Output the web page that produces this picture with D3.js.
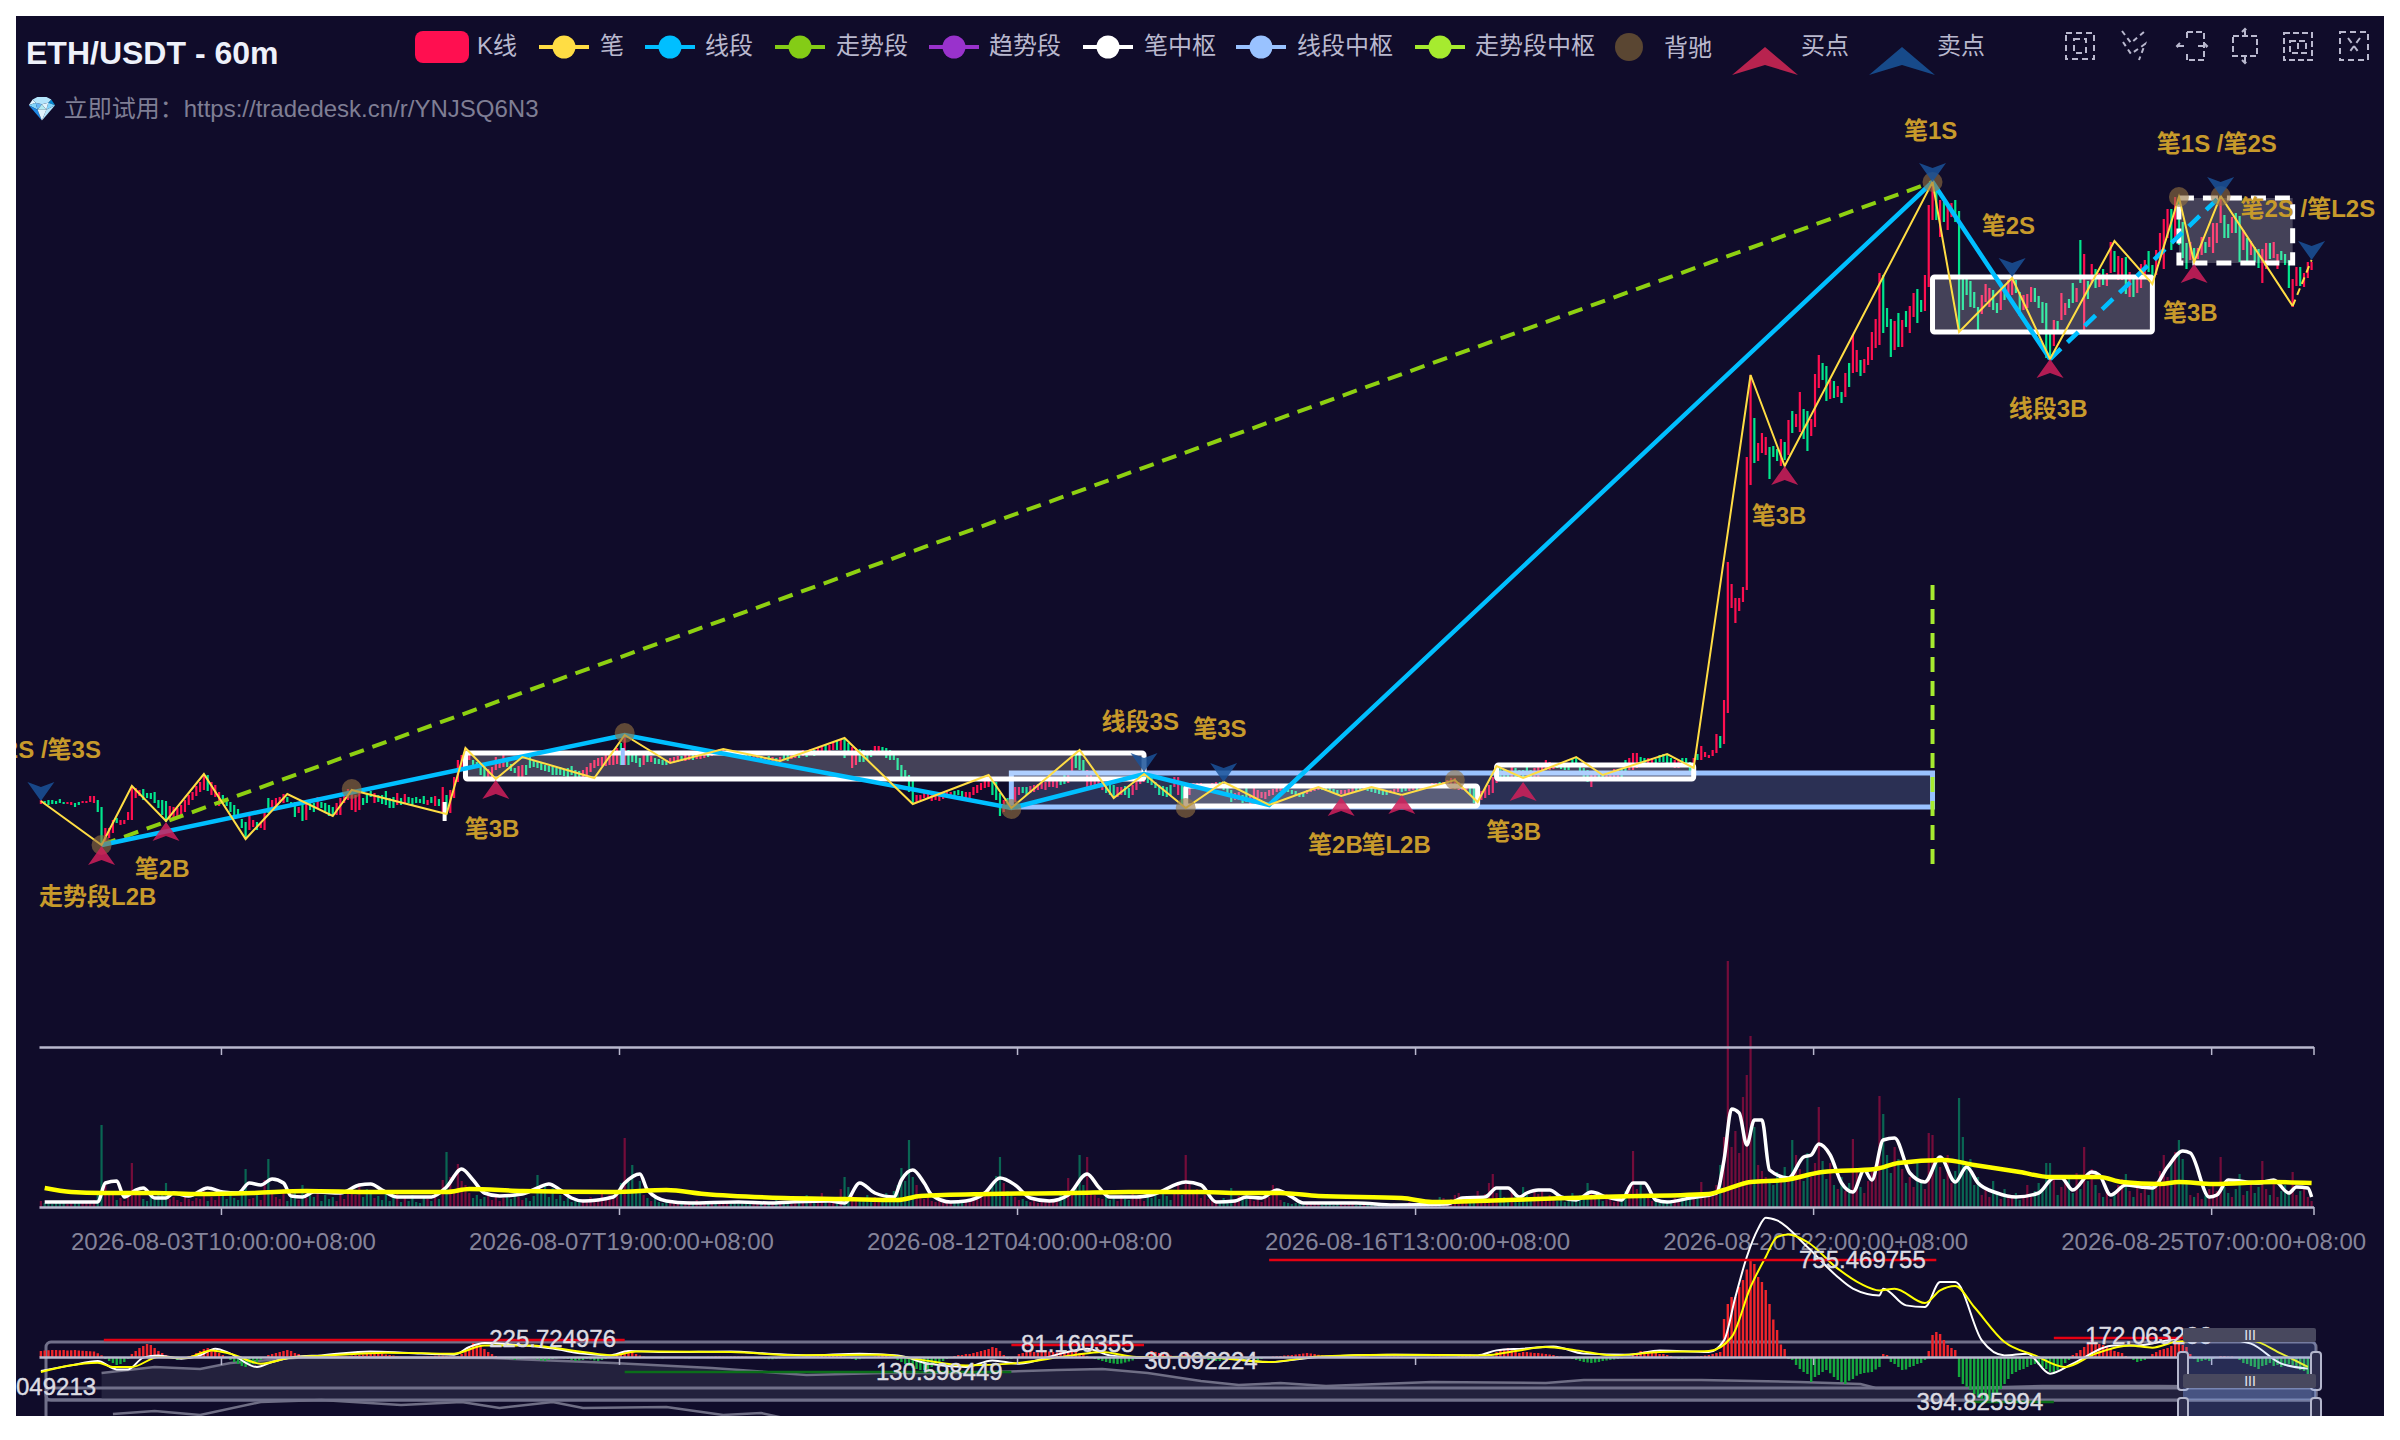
<!DOCTYPE html>
<html>
<head>
<meta charset="utf-8">
<script src="https://cdn.jsdelivr.net/npm/d3@7"></script>
<style>
  html, body { margin: 0; background: #fff; }
  text { font-family: "Liberation Sans", "Noto Sans CJK SC", sans-serif; }
</style>
</head>
<body>
<svg id="chart" width="2400" height="1440"></svg>
<script>
const barCount = 600;

// 60m bars
const candleHighs = [
2200,2199,2200,2200,2199,2201,2198,2198,2198,2197,
2198,2199,2199,2204,2204,2200,2193,2172,2172,2180,
2182,2180,2180,2188,2214,2212,2210,2211,2207,2207,
2208,2200,2200,2199,2194,2193,2192,2195,2200,2205,
2208,2214,2218,2226,2225,2218,2215,2208,2205,2200,
2198,2195,2191,2181,2178,2184,2180,2178,2177,2190,
2202,2200,2202,2203,2206,2203,2198,2198,2193,2196,
2198,2200,2197,2203,2198,2197,2195,2193,2197,2202,
2204,2211,2209,2205,2207,2202,2207,2209,2207,2205,
2205,2209,2202,2203,2207,2202,2206,2203,2202,2203,
2201,2204,2200,2203,2204,2201,2213,2205,2210,2223,
2240,2245,2252,2248,2240,2238,2237,2235,2231,2233,
2243,2241,2246,2242,2236,2232,2234,2235,2235,2243,
2240,2238,2237,2235,2234,2234,2232,2233,2231,2232,
2234,2230,2229,2230,2233,2237,2240,2242,2243,2245,
2248,2250,2252,2257,2265,2250,2249,2245,2242,2245,
2245,2244,2242,2241,2240,2240,2242,2243,2244,2244,
2245,2245,2246,2246,2247,2248,2249,2249,2250,2251,
2251,2250,2249,2248,2248,2247,2246,2245,2245,2244,
2243,2243,2244,2243,2242,2243,2246,2246,2247,2248,
2248,2250,2249,2251,2250,2253,2253,2255,2255,2258,
2259,2260,2262,2257,2253,2252,2251,2250,2247,2250,
2254,2254,2253,2252,2250,2248,2242,2235,2230,2225,
2220,2205,2205,2207,2206,2207,2207,2205,2207,2208,
2208,2209,2210,2209,2208,2208,2213,2215,2217,2220,
2225,2221,2218,2207,2200,2202,2205,2213,2213,2213,
2213,2214,2215,2216,2217,2218,2225,2221,2220,2222,
2225,2227,2243,2245,2250,2240,2230,2228,2222,2222,
2220,2217,2217,2215,2213,2213,2214,2212,2215,2220,
2224,2227,2225,2222,2218,2215,2214,2213,2215,2223,
2223,2217,2210,2213,2217,2217,2217,2216,2216,2217,
2218,2218,2215,2213,2210,2207,2208,2205,2212,2204,
2215,2210,2208,2208,2210,2211,2213,2213,2212,2212,
2210,2209,2207,2207,2210,2212,2213,2213,2213,2213,
2212,2211,2210,2210,2210,2211,2212,2212,2213,2213,
2212,2212,2211,2210,2209,2209,2210,2211,2212,2212,
2213,2213,2214,2214,2215,2215,2216,2217,2217,2218,
2218,2220,2222,2222,2218,2215,2215,2215,2215,2205,
2209,2212,2215,2223,2234,2233,2230,2228,2237,2232,
2230,2230,2234,2230,2232,2234,2235,2240,2238,2237,
2237,2236,2235,2234,2242,2242,2234,2232,2230,2225,
2225,2228,2228,2228,2227,2231,2230,2231,2240,2242,
2247,2247,2243,2242,2242,2242,2241,2245,2246,2245,
2242,2240,2240,2242,2242,2238,2242,2246,2254,2248,
2245,2250,2266,2264,2300,2438,2416,2402,2402,2413,
2543,2625,2582,2557,2567,2563,2553,2554,2551,2561,
2558,2580,2589,2586,2608,2591,2589,2581,2626,2645,
2637,2634,2620,2619,2614,2608,2627,2637,2665,2650,
2640,2641,2653,2668,2681,2727,2725,2692,2681,2679,
2687,2680,2689,2694,2707,2711,2700,2725,2795,2818,
2810,2800,2798,2793,2797,2800,2789,2721,2725,2719,
2708,2693,2705,2716,2712,2710,2697,2710,2715,2720,
2723,2720,2708,2705,2706,2713,2712,2704,2698,2697,
2670,2680,2679,2707,2697,2701,2717,2712,2760,2746,
2719,2736,2731,2727,2731,2727,2758,2749,2744,2742,
2743,2728,2723,2723,2736,2740,2749,2735,2750,2767,
2781,2791,2791,2803,2803,2778,2757,2758,2752,2752,
2763,2758,2763,2777,2777,2803,2785,2776,2783,2787,
2784,2770,2762,2759,2753,2751,2751,2757,2757,2758,
2746,2749,2746,2740,2721,2733,2733,2727,2738,2738];

const candleLows = [
2196,2196,2195,2196,2196,2197,2196,2196,2195,2193,
2195,2197,2197,2198,2197,2188,2155,2158,2162,2167,
2177,2175,2176,2180,2180,2202,2204,2200,2202,2201,
2197,2192,2185,2178,2180,2182,2183,2185,2188,2195,
2200,2204,2208,2210,2209,2205,2203,2194,2197,2194,
2188,2182,2182,2172,2161,2170,2173,2170,2172,2170,
2187,2192,2193,2197,2197,2198,2193,2183,2187,2179,
2180,2190,2188,2192,2192,2187,2184,2185,2185,2185,
2197,2200,2190,2188,2190,2195,2197,2203,2197,2198,
2196,2195,2192,2192,2195,2195,2197,2197,2194,2197,
2197,2196,2195,2197,2194,2194,2187,2186,2187,2202,
2218,2230,2233,2240,2233,2232,2225,2221,2222,2223,
2230,2232,2233,2233,2229,2227,2223,2219,2225,2232,
2233,2232,2230,2229,2228,2225,2225,2225,2224,2223,
2225,2222,2222,2223,2225,2228,2232,2234,2234,2234,
2235,2235,2236,2235,2235,2235,2238,2237,2233,2235,
2238,2238,2236,2236,2235,2235,2237,2238,2238,2239,
2239,2240,2240,2241,2241,2242,2243,2244,2245,2246,
2245,2245,2244,2243,2242,2242,2241,2240,2239,2238,
2238,2237,2238,2237,2237,2238,2240,2239,2241,2242,
2242,2244,2243,2245,2244,2246,2247,2248,2249,2250,
2250,2250,2242,2245,2232,2235,2238,2238,2240,2243,
2247,2248,2245,2242,2240,2240,2230,2222,2220,2208,
2197,2197,2200,2202,2201,2199,2200,2199,2201,2203,
2205,2204,2205,2203,2201,2201,2205,2207,2210,2212,
2213,2205,2200,2184,2188,2192,2191,2198,2205,2207,
2205,2207,2208,2210,2211,2210,2213,2213,2212,2215,
2216,2217,2227,2232,2230,2225,2212,2214,2213,2212,
2210,2207,2205,2203,2203,2205,2205,2202,2205,2210,
2216,2218,2217,2215,2212,2205,2204,2203,2205,2213,
2205,2193,2203,2205,2212,2212,2212,2213,2213,2213,
2213,2212,2210,2207,2198,2200,2200,2197,2198,2195,
2200,2202,2202,2201,2204,2205,2208,2209,2209,2208,
2206,2205,2203,2203,2206,2208,2209,2210,2210,2209,
2208,2207,2205,2206,2206,2207,2208,2209,2209,2210,
2209,2208,2207,2206,2205,2205,2207,2207,2208,2208,
2209,2209,2210,2210,2211,2211,2212,2212,2212,2212,
2213,2214,2211,2211,2210,2210,2210,2205,2197,2198,
2200,2202,2205,2207,2217,2223,2222,2222,2223,2220,
2223,2222,2225,2222,2223,2223,2225,2230,2230,2231,
2232,2231,2230,2230,2235,2237,2225,2223,2218,2213,
2220,2222,2222,2221,2222,2223,2222,2223,2228,2230,
2230,2232,2235,2237,2235,2235,2235,2238,2238,2235,
2233,2232,2232,2235,2235,2228,2232,2240,2240,2243,
2242,2244,2247,2252,2256,2287,2392,2377,2389,2398,
2410,2515,2537,2539,2547,2545,2521,2543,2539,2534,
2540,2545,2567,2573,2568,2561,2549,2564,2573,2612,
2620,2599,2601,2602,2603,2597,2603,2613,2627,2628,
2624,2627,2635,2640,2652,2655,2667,2673,2643,2650,
2653,2653,2673,2667,2683,2677,2688,2689,2713,2780,
2780,2763,2778,2770,2783,2778,2668,2690,2705,2693,
2692,2670,2686,2698,2693,2690,2687,2690,2700,2705,
2705,2707,2684,2690,2692,2698,2698,2692,2677,2642,
2642,2654,2668,2680,2685,2692,2697,2698,2717,2670,
2701,2717,2712,2713,2715,2714,2727,2728,2720,2720,
2706,2703,2703,2707,2712,2722,2728,2718,2725,2742,
2731,2762,2750,2763,2755,2742,2731,2740,2738,2741,
2745,2747,2753,2747,2757,2777,2762,2762,2767,2767,
2738,2750,2738,2745,2738,2732,2717,2731,2741,2742,
2731,2740,2735,2712,2693,2714,2714,2713,2722,2730];

const barDirs = [
"udddddduud","duuuudduuu","duuuuuuddd","dddduuuuuu","uuuuduuudd",
"ddddduuduu","duuuudddud","uddudddduu".slice(0,10),"uuuuudddudu".slice(0,10),"ddddududdd".slice(0,10)
].join("");

const barDirsRest = [
"ddudududuu","uuuuddddu"+"u","uuudddu"+"udd","dddddddddd","ddduuuuuuu",
"uuududddd"+"u","duddddu"+"uud","uudu"+"uududu","uuddddddu"+"u".slice(0,0)+"u","dudu"+"dudduu".slice(0,6),
"dududuudu"+"u","dudduuddd"+"d","uuddddddd"+"d","duuuuuuuuu","uddduuuuuu",
"udddudduu"+"d","duuuuuuuud","duudddu"+"uuu","uddduuddu"+"u","uuddddddd"+"u",
"uduuuuuuuu","udddduuddu","uuuuuuuudd","dddduuuudd","ddduuuuddu",
"ddddddu"+"uud","duuduuduud","uuuuuuuddu","uuuuuddd"+"ud","dddduuuuuu",
"dddddddddu","uddu"+"uuuddu","uuddu"+"uddd"+"d","duuddduduu".slice(0,10),"uuuduuuuuu",
"uuduuudddu","duduuddu"+"uu","ddudududuu".slice(0,10),"duuuuuddd"+"u","duduuddu"+"uu",
"duduuddddd".slice(0,10),"dduuudduuu".slice(0,0)+"dduuuddudu","uddu"+"uudddd","duduuddudu".slice(0,10),"duduuduuuu".slice(0,0)+"dududuuduu",
"dududuuddu".slice(0,0)+"duduuuddu"+"u","uududddudu","uuddududdu".slice(0,0)+"uduuuuddud","dudu"+"dduudu".slice(0,6),"udddu"+"uduuu"
].join("");

function candleIsUp(i) {
  return (barDirs + barDirsRest)[i] === "u";
}

const volumes = [
6,4,4,3,5,6,4,3,5,6, 4,5,6,4,7,12,82,22,12,14, 7,9,6,10,44,18,14,8,6,10, 7,12,14,24,8,10,7,5,12,8,
6,9,8,16,6,10,7,14,11,8, 13,9,7,12,38,8,9,14,7,27, 48,14,10,8,18,6,12,16,7,22, 9,14,10,18,6,12,8,10,6,14,
8,16,19,12,24,10,18,14,9,11, 7,16,6,10,14,5,9,6,12,5, 4,9,8,6,14,8,27,55,30,14, 43,26,22,14,9,12,8,10,14,7,
11,6,9,12,8,14,10,7,9,6, 11,32,14,22,10,19,8,12,6,9, 5,7,6,8,5,10,7,9,14,8, 12,10,16,24,69,27,42,18,26,12,
9,6,10,5,4,7,4,5,6,3, 4,6,3,7,4,5,3,6,4,5, 4,6,3,5,4,3,6,4,5,3, 4,3,5,4,7,3,5,4,3,6,
5,4,12,4,6,5,14,5,8,6, 10,18,30,20,16,10,8,7,12,6, 10,9,8,14,12,16,22,39,26,67, 30,22,12,8,10,6,5,7,4,6,
5,4,7,5,8,6,10,9,14,12, 18,22,31,50,24,16,12,10,7,8, 6,5,7,4,6,5,8,6,9,12, 14,29,18,20,52,22,50,16,12,9,
8,11,7,9,6,12,8,7,14,9, 10,6,12,9,16,8,18,11,7,14, 22,12,52,24,14,18,9,12,8,6, 7,5,9,6,19,8,11,7,14,9,
6,8,5,16,10,22,14,7,5,4, 3,4,5,2,3,4,3,5,2,3, 3,2,4,3,2,3,4,2,3,2, 3,2,4,3,2,3,2,4,2,3,
3,5,3,2,6,4,3,7,5,10, 9,5,8,12,14,8,11,7,10,16, 9,13,24,33,14,19,10,8,15,12, 8,20,12,9,16,13,18,9,12,7,
6,8,5,10,14,7,12,9,24,16, 8,11,6,13,8,5,9,6,16,22, 56,18,25,12,9,6,7,4,6,5, 7,9,6,12,8,9,14,10,25,14,
10,16,22,42,70,246,60,76,54,110, 132,171,80,42,36,30,24,22,35,28, 40,30,67,52,38,26,54,30,44,100, 46,28,44,22,18,30,16,24,68,36,
20,14,26,35,42,111,93,52,34,60, 48,38,24,30,20,44,26,18,74,72, 46,40,28,52,24,36,109,70,40,48, 22,30,12,20,10,26,14,8,18,11,
9,14,7,12,22,10,16,24,18,44, 44,30,12,20,24,28,14,34,18,60, 26,38,22,14,10,18,8,12,22,28, 33,16,10,20,14,22,12,18,26,36,
52,30,44,55,67,48,24,12,10,14, 8,12,18,22,16,50,20,14,10,18, 33,12,16,26,14,20,46,18,12,24, 10,16,22,14,35,12,16,18,10,6];

const volMa5Idx = [1,15,17,20,22,25,27,30,33,35,39,44,48,52,55,58,61,64,66,69,72,79,84,87,90,94,103,107,111,114,117,121,127,131,134,137,140,143,151,154,158,160,165,171,184,192,198,208,212,216,220,225,227,230,233,235,240,244,249,253,257,261,266,271,276,279,282,289,293,302,306,310,315,318,322,326,330,333,347,357,371,375,381,384,387,390,392,395,398,401,405,409,413,417,420,423,426,429,435,442,444,446,448,450,452,454,456,461,465,467,469,472,475,478,481,483,486,489,493,497,501,505,508,511,516,521,527,531,533,536,541,543,546,550,554,557,561,565,567,572,574,577,585,589,593,595,598,599];
const volMa5 = [5,5,24,26,10,17,19,9,9,14,11,19,15,14,24,22,28,24,11,10,15,14,22,23,17,10,10,20,38,27,14,11,13,19,23,17,9,6,10,24,33,17,6,4,5,4,5,6,4,24,14,10,27,37,24,12,5,6,14,29,22,9,6,12,33,20,10,10,12,25,22,5,6,10,9,17,10,4,4,2,3,9,10,19,19,10,14,17,17,10,7,15,10,7,24,24,7,5,9,14,47,98,94,62,87,87,37,29,50,52,63,52,24,15,37,27,67,69,34,25,50,25,40,24,14,10,14,29,29,17,35,32,12,22,20,19,40,56,54,10,12,27,24,27,14,20,19,10];

const volMa20Idx = [1,8,16,30,42,56,70,87,107,113,127,151,165,175,196,212,226,232,250,272,287,306,316,327,337,359,367,387,403,411,440,444,451,460,470,484,490,502,510,522,530,543,549,559,564,573,589,599];
const volMa20 = [19,15,14,14,13,14,16,15,15,18,16,15,17,13,9,8,7,11,13,14,15,15,14,14,11,9,5,7,9,10,13,17,25,27,35,38,44,47,42,35,30,30,25,23,25,23,25,24];

const macdHist = [
48,52,54,56,56,54,56,52,54,56,52,50,48,46,44,30,14,
-16,-32,-48,-64,-56,-40,-16,
24,48,72,88,104,96,72,48,32,16,
-8,-16,-24,-16,-8,8,
16,32,48,64,72,64,48,32,16,
-8,-24,-40,-56,-72,-80,-64,-56,-40,-24,-8,
16,24,32,40,48,56,48,32,24,8,
4,6,8,8,-4,-6,4,8,6,8,6,
8,12,14,16,20,24,28,32,28,24,20,16,12,8,4,
-4,-8,-12,-8,-4,
4,6,8,10,12,10,8,6,4,8,
24,48,80,112,104,88,64,40,24,8,
-4,-8,-12,-16,-24,-16,-12,-8,-4,-12,-20,-28,-32,-24,-16,-12,-8,-12,-16,-24,-32,-28,-24,-16,-20,-28,-32,-24,-16,-8,-4,
16,32,48,56,40,24,12,4,
-4,-6,-8,-10,-12,-8,-6,-4,-6,-8,-10,-12,-8,-6,-4,-2,
2,2,4,4,2,2,3,4,4,3,2,-2,-3,-6,-10,-14,-18,-18,-14,-12,-10,-8,-6,-4,-2,2,2,3,3,
6,10,14,16,16,12,8,4,
-8,-14,-24,-18,-10,-6,-4,4,12,16,
8,4,-4,
-24,-40,-56,-72,-88,-96,-104,-104,-96,-80,-64,-48,-32,-16,
-8,
8,16,16,24,24,32,40,48,56,64,80,72,48,
16,-16,-16,-8,
24,32,40,48,40,36,40,48,44,40,36,40,44,48,44,40,32,24,8,
-8,-16,-24,-32,-40,-48,-52,-56,-52,-44,-36,-28,-16,-8,
4,
24,48,40,32,24,16,12,8,8,
16,24,16,8,4,
-8,-16,-24,-24,-32,-32,-24,-16,-24,-24,-32,-24,-16,-16,-24,-24,-16,-8,-8,
4,6,8,12,14,16,20,24,28,32,28,24,18,14,10,8,6,4,
2,2,-2,-2,2,3,2,2,-3,-4,-3,-2,2,2,3,3,2,-2,-3,-4,-4,-3,-2,2,2,3,4,2,2,-3,-2,
8,12,16,20,16,8,-8,-12,-8,4,
40,56,64,72,64,48,32,
40,40,36,32,32,28,24,20,16,8,4,
-4,-8,-16,-24,-32,-40,-44,-48,-44,-40,-32,-28,-24,-20,-16,-12,-8,-4,
16,32,48,44,40,36,32,24,24,16,8,
-8,-16,-16,-12,-8,-4,4,
8,12,16,24,32,40,
304,424,480,480,560,616,700,776,744,640,600,536,424,300,216,100,64,
-16,-24,-64,-96,-120,-136,-200,-160,-144,-120,-104,-130,-160,-184,-200,-216,-190,-176,-150,-136,-128,-124,-120,-100,-80,
24,16,
-40,-56,-80,-104,-100,-80,-72,-56,-48,-24,
48,176,200,184,136,96,72,56,
-160,-216,-240,-264,-296,-320,-336,-344,-340,-320,-296,-256,-216,-176,-136,-120,-104,-96,-80,-64,-56,-64,-80,-96,-120,-136,-104,-80,-48,-24,
16,32,56,80,104,136,120,104,96,80,64,48,40,32,
8,-8,
-24,-40,-32,-24,-8,
24,40,56,64,72,88,120,104,96,80,24,
-16,-40,-32,-24,-32,-16,-8,
8,8,4,4,-8,
-24,-48,-56,-72,-80,-96,-72,-64,-48,-72,-64,-80,-72,-56,-64,-80,-104,-112,-136,-136];

const difIdx = [0,8,15,20,23,27,31,37,42,46,50,57,61,67,74,87,97,109,113,117,127,135,143,150,155,165,182,192,202,216,226,234,244,251,258,269,276,282,290,306,324,337,357,379,384,391,399,407,419,427,440,444,447,450,453,455,458,466,474,478,485,486,492,497,501,505,512,518,524,530,536,547,553,561,567,575,583,591,598];
const difVals = [-112,-67,-32,-99,-99,-5,13,-13,13,67,27,-80,-40,0,13,45,32,19,80,112,93,67,27,13,48,40,45,27,13,27,13,-53,-80,-27,-53,27,67,13,-5,5,-40,0,19,13,53,67,85,27,19,53,40,133,480,800,1027,1115,1093,880,640,547,493,547,413,400,600,600,133,13,27,-133,-53,93,93,133,160,147,107,-53,-93];
const deaIdx = [0,15,19,24,31,38,45,50,58,66,76,91,109,117,129,143,151,157,182,200,222,232,244,256,272,280,289,306,324,337,355,381,389,397,405,415,427,440,446,451,455,458,461,466,474,480,485,489,497,501,505,510,518,526,534,542,551,557,563,575,583,591,598];
const deaVals = [-120,-45,-80,-80,0,-8,53,27,-53,-5,13,35,27,93,93,40,13,45,40,13,19,-21,-67,-53,13,40,0,0,-40,5,19,13,48,80,53,13,40,48,160,560,800,960,980,920,707,587,533,547,432,533,568,400,120,13,-80,27,93,75,120,139,133,27,-80];

// data shadow of the two sliders at the bottom
const shadowIdx = [16,30,42,50,70,119,131,151,177,202,222,242,268,280,292,306,316,327,339,367,397,407,438,464,480,484,508,528,559,593,595,599];
const shadowVals = [27,33,31,37,43,42,40,37,32,25,27,27,30,31,27,19,15,17,14,18,17,20,20,18,16,12,12,14,14,13,21,22];
const shadowBIdx = [19,30,42,58,74,95,111,121,135,143,165,180,190,196];
const shadowBVals = [-14,-11,-15,-2,0,-5,-2,-8,-2,-8,-7,-15,-13,-18];

// 笔 / 线段 / 走势段 end points
const penIdx = [0,16,24,33,43,54,65,77,82,107,112,120,127,146,154,166,180,195,212,230,250,256,274,283,291,302,312,324,337,343,351,359,373,379,384,391,405,412,429,436,451,460,499,506,520,530,547,557,564,568,575,594];
const penPrice = [2199,2155,2214,2179,2226,2161,2206,2184,2210,2186,2252,2221,2243,2222,2265,2237,2251,2239,2262,2196,2225,2192,2250,2202,2226,2192,2218,2195,2213,2204,2213,2205,2220,2198,2234,2222,2243,2225,2246,2232,2625,2534,2818,2668,2722,2641,2759,2716,2803,2738,2804,2694];
const penLastIdx = [594,599];
const penLastPrice = [2694,2740];
const segIdx = [16,154,256,291,324,499,530];
const segPrice = [2155,2265,2192,2226,2195,2818,2641];
const segDashIdx = [530,575];
const segDashPrice = [2641,2804];
const trendIdx = [16,499];
const trendPrice = [2155,2818];

// 中枢: from bar, to bar, upper, lower
const penHubFrom = [112,302,384,499];
const penHubTo = [291,379,436,557];
const penHubUp = [2247,2214,2235,2723];
const penHubDown = [2221,2194,2221,2668];
const penHubDashFrom = 564, penHubDashTo = 594, penHubDashUp = 2802, penHubDashDown = 2737;
const segHubFrom = 256, segHubTo = 499, segHubUp = 2227, segHubDown = 2193;
const trendHubIdx = 499, trendHubUp = 2415, trendHubDown = 2132;
const stubIdx = [106.5, 153.5];
const stubUp = [2198, 2252];
const stubDown = [2179, 2235];
const stubColors = ["#ffffff", "#99c2ff"];

const divergeIdx = [16,82,154,256,302,373,499,564,575];
const divergePrice = [2155,2211,2267,2191,2192,2220,2818,2803,2804];
const buyIdx = [16,33,120,343,359,391,460,530,568];
const buyPrice = [2154,2178,2220,2203,2205,2218,2534,2641,2736];
const sellIdx = [0,291,312,499,520,575,599];
const sellPrice = [2199,2228,2218,2818,2723,2804,2740];

const signalTexts = ["笔2S /笔3S","走势段L2B","笔2B","笔3B","线段3S","笔3S","笔2B","笔L2B","笔3B","笔3B","笔1S","笔2S","线段3B","笔3B","笔1S /笔2S","笔2S /笔L2S"];
const signalIdx = [0,15,32,119,290,311,341.5,357.5,388.5,458.5,498.5,519,529.5,567,574,598];
const signalPrice = [2251,2104,2132,2172,2279,2272,2156,2156,2169,2485,2870,2775,2592,2688,2857,2792];

const tickIdx = [48,153,258,363,468,573,600];
const tickLabels = ["2026-08-03T10:00:00+08:00","2026-08-07T19:00:00+08:00","2026-08-12T04:00:00+08:00","2026-08-16T13:00:00+08:00","2026-08-20T22:00:00+08:00","2026-08-25T07:00:00+08:00",""];

// MACD mark lines and their values
const markTexts = ["225.724976","81.160355","30.092224","130.598449","049213","755.469755","394.825994","172.063266"];
const markTextIdx = [135,273.5,306,237,4,480.5,511.5,556];
const markTextLevel = [152,112,-24,-112,-232,784,-352,176];
const markFrom = [16.6,256,null,154,null,324,508,531];
const markTo = [154,291,null,256,null,500,531,575];
const markLevel = [136,96,null,-120,null,776,-360,152];

const legendNames = ["笔","线段","走势段","趋势段","笔中枢","线段中枢","走势段中枢"];
const legendColors = ["#ffdd44","#00bfff","#84cc16","#9932cc","#ffffff","#99c2ff","#a6eb2f"];
const legendX = [564,670,800,954,1108,1261,1440];
const legendTextX = [600,705,836,989,1144,1297,1475];

const bg = "#100c2a";
const red = "#ff0f50";
const green = "#00e58c";
const gold = "#c79a2b";
const axisColor = "#b9b8ce";

const svg = d3.select("#chart");
svg.append("clipPath").attr("id", "page").append("rect")
  .attr("x", 16).attr("y", 16).attr("width", 2368).attr("height", 1400);
const root = svg.append("g").attr("clip-path", "url(#page)");
root.append("rect").attr("x", 16).attr("y", 16).attr("width", 2368).attr("height", 1400).attr("fill", bg);

const edgeX = d3.scaleLinear().domain([0, barCount]).range([39, 2313.5]);
const barX = (i) => edgeX(i + 0.5);
const priceY = d3.scaleLinear().domain([2000, 3000]).range([1000, 0]);
const volY = d3.scaleLinear().domain([0, 250]).range([1207, 957]);
const macdY = d3.scaleLinear().domain([-400, 800]).range([1407, 1257]);
const shadowY = d3.scaleLinear().domain([0, 50]).range([1400, 1350]);

drawSliders();
drawMain();
drawVolume();
drawMacd();
drawSliderWindows();
drawLegend();
drawToolbox();

function lineOf(xs, ys, yScale) {
  return d3.line().x((d) => barX(d)).y((d, i) => yScale(ys[i]))(xs);
}

function drawMain() {
  const main = root.append("g");
  main.selectAll("rect.candle").data(candleHighs).join("rect")
    .attr("class", "candle")
    .attr("x", (d, i) => barX(i) - 1.1)
    .attr("width", 2.2)
    .attr("y", (d) => priceY(d))
    .attr("height", (d, i) => Math.max(1, priceY(candleLows[i]) - priceY(d)))
    .attr("fill", (d, i) => (candleIsUp(i) ? red : green));

  // hubs
  const hubs = main.append("g");
  hubs.append("rect")
    .attr("x", barX(segHubFrom)).attr("width", barX(segHubTo) - barX(segHubFrom))
    .attr("y", priceY(segHubUp)).attr("height", priceY(segHubDown) - priceY(segHubUp))
    .attr("fill", "rgba(153,194,255,0.2)").attr("stroke", "#99c2ff").attr("stroke-width", 5);
  hubs.selectAll("rect.hub").data(penHubFrom).join("rect")
    .attr("class", "hub")
    .attr("x", (d) => barX(d))
    .attr("width", (d, i) => barX(penHubTo[i]) - barX(d))
    .attr("y", (d, i) => priceY(penHubUp[i]))
    .attr("height", (d, i) => priceY(penHubDown[i]) - priceY(penHubUp[i]))
    .attr("rx", 2)
    .attr("fill", "rgba(255,255,255,0.22)").attr("stroke", "#fff").attr("stroke-width", 5);
  hubs.append("rect")
    .attr("x", barX(penHubDashFrom)).attr("width", barX(penHubDashTo) - barX(penHubDashFrom))
    .attr("y", priceY(penHubDashUp)).attr("height", priceY(penHubDashDown) - priceY(penHubDashUp))
    .attr("fill", "rgba(255,255,255,0.22)").attr("stroke", "#fff").attr("stroke-width", 5)
    .attr("stroke-dasharray", "15,9");
  hubs.selectAll("line.stub").data(stubIdx).join("line")
    .attr("class", "stub")
    .attr("x1", (d) => barX(d)).attr("x2", (d) => barX(d))
    .attr("y1", (d, i) => priceY(stubUp[i])).attr("y2", (d, i) => priceY(stubDown[i]))
    .attr("stroke", (d, i) => stubColors[i]).attr("stroke-width", 4);
  hubs.append("line")
    .attr("x1", barX(trendHubIdx)).attr("x2", barX(trendHubIdx))
    .attr("y1", priceY(trendHubUp)).attr("y2", priceY(trendHubDown))
    .attr("stroke", "#a6eb2f").attr("stroke-width", 4).attr("stroke-dasharray", "15,9");

  // trend, segments, pens
  const path = (xs, ys, color, width, dash) =>
    main.append("path").attr("d", lineOf(xs, ys, priceY))
      .attr("fill", "none").attr("stroke", color).attr("stroke-width", width)
      .attr("stroke-dasharray", dash || null);
  path(trendIdx, trendPrice, "#8ed011", 4, "15,9");
  path(segIdx, segPrice, "#00bfff", 4.5);
  path(segDashIdx, segDashPrice, "#00bfff", 4.5, "15,9");
  path(penIdx, penPrice, "#ffdd44", 2);
  path(penLastIdx, penLastPrice, "#ffdd44", 2, "7,5");

  // divergence dots and buy / sell arrows
  main.selectAll("circle.diverge").data(divergeIdx).join("circle")
    .attr("class", "diverge")
    .attr("cx", (d) => barX(d))
    .attr("cy", (d, i) => priceY(divergePrice[i]))
    .attr("r", 10)
    .attr("fill", "rgba(150,115,65,0.6)");
  const arrow = "M0,0 L13.5,19 L0,14 L-13.5,19 Z";
  main.selectAll("path.buy").data(buyIdx).join("path")
    .attr("class", "buy")
    .attr("d", arrow)
    .attr("transform", (d, i) => `translate(${barX(d)},${priceY(buyPrice[i])})`)
    .attr("fill", "#d0205a").attr("fill-opacity", 0.85);
  main.selectAll("path.sell").data(sellIdx).join("path")
    .attr("class", "sell")
    .attr("d", arrow)
    .attr("transform", (d, i) => `translate(${barX(d)},${priceY(sellPrice[i])}) scale(1,-1)`)
    .attr("fill", "#1a5299").attr("fill-opacity", 0.85);

  main.selectAll("text.signal").data(signalTexts).join("text")
    .attr("class", "signal")
    .attr("x", (d, i) => barX(signalIdx[i]))
    .attr("y", (d, i) => priceY(signalPrice[i]))
    .attr("dy", "0.36em")
    .attr("text-anchor", "middle")
    .attr("font-size", 24).attr("font-weight", "bold")
    .attr("fill", gold)
    .text((d) => d);
}

function drawAxis(y, labels) {
  const axis = d3.axisBottom(edgeX)
    .tickValues(tickIdx)
    .tickSizeOuter(0)
    .tickSizeInner(8)
    .tickPadding(18)
    .tickFormat((d, i) => (labels ? tickLabels[i] : ""));
  const g = root.append("g").attr("transform", `translate(0,${y})`).call(axis);
  g.select(".domain").attr("stroke", axisColor).attr("stroke-width", 2.5);
  g.selectAll(".tick line").attr("stroke", axisColor).attr("stroke-width", 1.5);
  g.selectAll(".tick text")
    .attr("fill", "#85849a")
    .attr("font-size", 24)
    .attr("font-family", null)
    .attr("dx", 2);
}

function drawVolume() {
  const g = root.append("g");
  g.selectAll("rect").data(volumes).join("rect")
    .attr("x", (d, i) => barX(i) - 1.1)
    .attr("width", 2.2)
    .attr("y", (d) => volY(d))
    .attr("height", (d) => volY(0) - volY(d))
    .attr("fill", (d, i) => (candleIsUp(i) ? red : green))
    .attr("fill-opacity", 0.42);
  const line = d3.line().curve(d3.curveMonotoneX)
    .x((d) => barX(d));
  g.append("path").attr("d", line.y((d, i) => volY(volMa5[i]))(volMa5Idx))
    .attr("fill", "none").attr("stroke", "#fff").attr("stroke-width", 3.5);
  g.append("path").attr("d", line.y((d, i) => volY(volMa20[i]))(volMa20Idx))
    .attr("fill", "none").attr("stroke", "#ffff00").attr("stroke-width", 4.5);
  drawAxis(1047, false);
  drawAxis(1207, true);
}

function drawMacd() {
  const g = root.append("g");
  drawAxis(1357, false);
  g.selectAll("rect").data(macdHist).join("rect")
    .attr("x", (d, i) => barX(i) - 1.2)
    .attr("width", 2.4)
    .attr("y", (d) => Math.min(macdY(d), macdY(0)))
    .attr("height", (d) => Math.abs(macdY(d) - macdY(0)))
    .attr("fill", (d) => (d >= 0 ? "#f0252b" : "#14a83c"));
  const line = d3.line().curve(d3.curveMonotoneX).x((d) => barX(d));
  g.append("path").attr("d", line.y((d, i) => macdY(difVals[i]))(difIdx))
    .attr("fill", "none").attr("stroke", "#fff").attr("stroke-width", 2);
  g.append("path").attr("d", line.y((d, i) => macdY(deaVals[i]))(deaIdx))
    .attr("fill", "none").attr("stroke", "#ffff00").attr("stroke-width", 2);

  g.selectAll("line.mark").data(markLevel).join("line")
    .attr("class", "mark")
    .attr("display", (d) => (d === null ? "none" : null))
    .attr("x1", (d, i) => barX(markFrom[i]))
    .attr("x2", (d, i) => barX(markTo[i]))
    .attr("y1", (d) => macdY(d))
    .attr("y2", (d) => macdY(d))
    .attr("stroke", (d) => (d > 0 ? "#e60012" : "#0b6e1a"))
    .attr("stroke-width", 2.5);
  g.selectAll("text.mark").data(markTexts).join("text")
    .attr("class", "mark")
    .attr("x", (d, i) => barX(markTextIdx[i]))
    .attr("y", (d, i) => macdY(markTextLevel[i]))
    .attr("dy", "0.36em")
    .attr("text-anchor", "middle")
    .attr("font-size", 24)
    .attr("fill", "#dcdce2")
    .attr("stroke", "#dcdce2").attr("stroke-width", 0.4)
    .text((d) => d);
}

function drawSliders() {
  const g = root.append("g");
  const line = d3.line().x((d) => barX(d));
  const area = d3.area().x((d) => barX(d)).y0(shadowY(0));
  g.append("rect").attr("x", 46).attr("y", 1342).attr("width", 2270).attr("height", 58).attr("rx", 5)
    .attr("fill", "none").attr("stroke", "#71708a").attr("stroke-width", 3);
  g.append("path").attr("d", area.y1((d, i) => shadowY(shadowVals[i]))(shadowIdx))
    .attr("fill", "#23213d");
  g.append("path").attr("d", line.y((d, i) => shadowY(shadowVals[i]))(shadowIdx))
    .attr("fill", "none").attr("stroke", "#6f6e85").attr("stroke-width", 2.5);
  g.append("path").attr("d", line.y((d, i) => shadowY(shadowBVals[i]))(shadowBIdx))
    .attr("fill", "none").attr("stroke", "#6f6e85").attr("stroke-width", 2.5);
  g.append("rect").attr("x", 46).attr("y", 1388).attr("width", 2270).attr("height", 60).attr("rx", 5)
    .attr("fill", "none").attr("stroke", "#71708a").attr("stroke-width", 3);
  g.append("line").attr("x1", 46).attr("x2", 2316).attr("y1", 1400).attr("y2", 1400)
    .attr("stroke", "#71708a").attr("stroke-width", 3);
}

function drawSliderWindows() {
  const g = root.append("g");
  [[1342, 1400, 1352, 1390], [1388, 1440, 1398, 1440]].forEach(([top, bottom, hTop, hBottom]) => {
    g.append("rect").attr("x", 2183).attr("y", top).attr("width", 133).attr("height", bottom - top)
      .attr("fill", "rgba(135,175,255,0.2)");
    g.append("rect").attr("x", 2183).attr("y", top - 14).attr("width", 133).attr("height", 14).attr("rx", 2)
      .attr("fill", "#48485e");
    g.append("text").attr("x", 2250).attr("y", top - 7).attr("dy", "0.36em")
      .attr("text-anchor", "middle").attr("font-size", 14).attr("fill", "#e6e6ee").text("III");
    [2183, 2316].forEach((x) => {
      g.append("rect").attr("x", x - 5).attr("y", hTop).attr("width", 10).attr("height", hBottom - hTop).attr("rx", 3)
        .attr("fill", "#2c2c4c").attr("stroke", "#b4b6cc").attr("stroke-width", 2);
    });
  });
}

function drawLegend() {
  const g = root.append("g");
  g.append("text").attr("x", 26).attr("y", 64).attr("font-size", 32).attr("font-weight", "bold")
    .attr("fill", "#eef1fa").text("ETH/USDT - 60m");
  g.append("text").attr("x", 27).attr("y", 108).attr("dy", "0.36em").attr("font-size", 24)
    .attr("fill", "#7f7e94").text("💎 立即试用：https://tradedesk.cn/r/YNJSQ6N3");

  const label = (x, y, text) =>
    g.append("text").attr("x", x).attr("y", y).attr("dy", "0.36em").attr("font-size", 24)
      .attr("fill", "#b9b8ce").text(text);

  g.append("rect").attr("x", 415).attr("y", 31).attr("width", 54).attr("height", 32).attr("rx", 8).attr("fill", red);
  label(477, 45, "K线");

  legendNames.forEach((name, i) => {
    g.append("line").attr("x1", legendX[i] - 25).attr("x2", legendX[i] + 25).attr("y1", 47).attr("y2", 47)
      .attr("stroke", legendColors[i]).attr("stroke-width", 4);
    g.append("circle").attr("cx", legendX[i]).attr("cy", 47).attr("r", 11.5).attr("fill", legendColors[i]);
    label(legendTextX[i], 45, name);
  });

  g.append("circle").attr("cx", 1629).attr("cy", 47).attr("r", 14).attr("fill", "#5a4632");
  label(1664, 47, "背驰");
  const legendArrow = "M0,0 L33,28 L0,18 L-33,28 Z";
  g.append("path").attr("d", legendArrow).attr("transform", "translate(1765,47)").attr("fill", "#b8234f");
  label(1801, 45, "买点");
  g.append("path").attr("d", legendArrow).attr("transform", "translate(1902,47)").attr("fill", "#174a8a");
  label(1937, 45, "卖点");
}

function drawToolbox() {
  const g = root.append("g").attr("fill", "none").attr("stroke", "#b9b8ce").attr("stroke-width", 2);
  const icons = [
    [2080, "M-14,-13 H14 V13 H-14 Z M-6,-7 H6 V7 H-6 Z", "6,4"],
    [2135, "M-13,-15 L-4,-3 L10,-15 M-12,-4 L-4,8 L10,-2 L4,14", "5,4"],
    [2192, "M-5,-14 H12 V14 H-5 M-5,-14 V-8 M-5,14 V8 M-14,0 H-6 M6,0 H14 M-12,-3 L-15,0 L-12,3 M12,-3 L15,0 L12,3", "6,3"],
    [2245, "M-12,-10 H12 V10 H-12 Z M0,-17 V-10 M0,10 V17 M-3,-14 L0,-17 L3,-14 M-3,14 L0,17 L3,14", "6,3"],
    [2298, "M-14,-13 H14 V14 H-14 Z M-8,-5 H8 V7 H-8 Z M0,-3 V3", "6,3"],
    [2354, "M-14,-14 H14 V14 H-14 Z M-6,-8 L6,8 M6,-8 L-6,8", "6,4"],
  ];
  icons.forEach(([x, d, dash]) => {
    g.append("path").attr("d", d).attr("transform", `translate(${x},46)`).attr("stroke-dasharray", dash);
  });
}
</script>
</body>
</html>
